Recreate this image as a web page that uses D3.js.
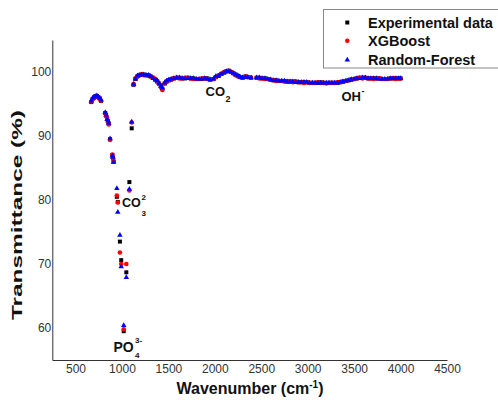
<!DOCTYPE html>
<html><head><meta charset="utf-8">
<script src="https://cdn.jsdelivr.net/npm/d3@7"></script>
<style>
body{margin:0;background:#fff;}
svg{display:block;font-family:Arial,"Liberation Sans",sans-serif;}
</style></head><body>
<svg id="chart" width="498" height="402"></svg>
<script>
// ---- data ----
const wavenumbers = [
 670,685,700,715,730,745,760,775,820,830,840,850,858,872,897,903,910,945,955,978,992,1019,1047,1080,1105,
 1125,1145,1165,1185,1210,1235,1260,1285,1310,1335,1360,1380,1400,1420,1435,1460,1480,1505,1530,
 1560,1590,1620,1650,1680,1710,1740,1770,1800,1830,1860,1890,1920,1950,1985,
 2010,2040,2070,2100,2125,2150,2175,2200,2225,2250,2275,2300,2330,2355,2390,
 2450,2480,2510,2540,2570,2600,2630,2660,2690,2720,2750,2780,2810,2840,2870,2900,2930,2960,2990,3020,
 3050,3080,3110,3140,3170,3200,3230,3260,3290,3320,3350,3380,3410,3440,3470,3500,3530,3560,3590,3620,
 3650,3680,3710,3740,3770,3800,3830,3860,3890,3920,3950,3980,4000
];
const experimental = [
 95.3,95.8,96.0,96.2,96.2,96.1,95.9,95.5,93.6,93.2,92.7,92.3,91.9,89.5,87.0,86.6,86.0,80.5,79.7,73.5,70.6,59.5,68.7,82.8,91.2,
 98.0,98.9,99.3,99.5,99.6,99.6,99.5,99.5,99.3,99.1,98.8,98.5,98.2,97.9,97.4,98.2,98.5,98.7,98.8,
 99.0,99.1,99.1,99.0,99.0,99.1,99.0,99.0,98.9,98.9,98.9,99.0,99.0,98.8,98.9,
 99.2,99.4,99.7,99.9,100.1,100.2,100.0,99.8,99.6,99.4,99.2,99.1,99.3,99.2,99.1,
 99.1,99.1,99.0,99.0,98.9,98.8,98.7,98.7,98.6,98.6,98.6,98.5,98.5,98.5,98.5,98.4,98.4,98.4,98.4,98.3,
 98.3,98.3,98.3,98.4,98.3,98.3,98.3,98.3,98.3,98.3,98.4,98.5,98.6,98.7,98.8,98.9,99.0,99.1,99.1,99.1,
 99.0,99.0,99.0,99.0,99.0,98.9,98.9,98.9,99.0,99.0,99.0,99.0,99.0
];
const xgboost = [
 95.4,95.8,96.0,96.1,96.2,96.1,95.8,95.5,93.5,93.1,92.8,92.2,91.8,89.4,87.1,86.5,86.1,80.7,79.6,71.8,70.0,59.8,70.0,81.5,92.1,
 98.1,99.0,99.3,99.5,99.6,99.5,99.5,99.4,99.3,99.1,98.9,98.6,98.1,97.6,97.2,98.2,98.5,98.7,98.9,
 99.0,99.1,99.0,99.0,99.1,99.1,99.0,98.9,98.9,98.9,99.0,99.0,98.9,98.8,98.9,
 99.2,99.5,99.7,100.0,100.1,100.2,100.0,99.8,99.5,99.3,99.2,99.1,99.3,99.2,99.1,
 99.1,99.0,99.0,98.9,98.9,98.8,98.7,98.6,98.6,98.6,98.5,98.5,98.5,98.4,98.5,98.4,98.4,98.3,98.4,98.3,
 98.3,98.3,98.4,98.3,98.3,98.2,98.3,98.3,98.3,98.4,98.4,98.5,98.6,98.7,98.9,98.9,99.0,99.1,99.0,99.1,
 99.0,99.0,98.9,99.0,99.0,98.9,98.9,98.9,99.0,99.0,98.9,99.0,99.0
];
const randomForest = [
 95.5,95.9,96.1,96.2,96.3,96.1,95.9,95.6,93.7,93.3,92.6,92.4,92.0,89.6,86.9,86.7,85.9,81.8,78.1,74.5,69.6,60.4,67.9,81.7,92.2,
 98.1,98.9,99.4,99.5,99.6,99.6,99.5,99.5,99.3,99.0,98.8,98.6,98.2,97.8,97.5,98.3,98.6,98.8,98.9,
 99.0,99.1,99.1,99.0,99.0,99.0,99.0,99.0,98.9,98.9,98.9,99.0,98.9,98.8,98.9,
 99.3,99.4,99.7,99.9,100.1,100.1,100.0,99.8,99.6,99.4,99.2,99.1,99.2,99.2,99.1,
 99.1,99.1,99.0,99.0,98.9,98.8,98.7,98.7,98.6,98.6,98.6,98.5,98.5,98.5,98.4,98.4,98.4,98.4,98.4,98.3,
 98.3,98.3,98.3,98.3,98.3,98.3,98.3,98.3,98.3,98.3,98.4,98.5,98.6,98.7,98.8,98.9,99.0,99.0,99.1,99.1,
 99.0,99.0,99.0,99.0,98.9,98.9,98.9,98.9,99.0,99.0,99.0,99.0,99.0
];
const xTicks = [500,1000,1500,2000,2500,3000,3500,4000,4500];
const yTicks = [60,70,80,90,100];
const seriesNames = ["Experimental data","XGBoost","Random-Forest"];
const seriesColors = ["#000000","#ff0000","#0000ff"];

// ---- scales ----
const svg = d3.select("#chart");
const x = d3.scaleLinear().domain([250,4500]).range([52.3,447]);
const y = d3.scaleLinear().domain([55,105]).range([360,40]);

// ---- axes ----
const xAxis = svg.append("g").attr("transform","translate(0,360)")
  .call(d3.axisBottom(x).tickValues(xTicks).tickSize(0).tickPadding(4).tickFormat(d3.format("d")));
const yAxis = svg.append("g").attr("transform","translate(52.3,0)")
  .call(d3.axisLeft(y).tickValues(yTicks).tickSize(0).tickPadding(1).tickFormat(d3.format("d")));
[xAxis,yAxis].forEach(g=>{
  g.select(".domain").attr("stroke","#333").attr("stroke-width",1);
  g.selectAll("text").attr("font-size",12).attr("fill","#333").attr("font-family","Arial, 'Liberation Sans', sans-serif");
});

// ---- axis titles ----
const xt = svg.append("text").attr("x",250).attr("y",394).attr("text-anchor","middle")
  .attr("font-size",16).attr("font-weight","bold").attr("fill","#111");
xt.append("tspan").text("Wavenumber (cm");
xt.append("tspan").attr("font-size",10).attr("dy",-6).text("-1");
xt.append("tspan").attr("dy",6).text(")");

svg.append("text").attr("transform","translate(21.5,215) rotate(-90)")
  .attr("text-anchor","middle").attr("font-size",15.5).attr("font-weight","bold").attr("fill","#111")
  .attr("textLength",210).attr("lengthAdjust","spacingAndGlyphs")
  .text("Transmittance (%)");

// ---- points ----
const idx = d3.range(wavenumbers.length);
const sq = d3.symbol().type(d3.symbolSquare).size(16);
const tri = d3.symbol().type(d3.symbolTriangle).size(13);

svg.append("g").selectAll("path").data(idx).join("path")
  .attr("d",sq).attr("fill",seriesColors[0])
  .attr("transform",i=>`translate(${x(wavenumbers[i])},${y(experimental[i])})`);
svg.append("g").selectAll("circle").data(idx).join("circle")
  .attr("cx",i=>x(wavenumbers[i])).attr("cy",i=>y(xgboost[i])).attr("r",2.3)
  .attr("fill",seriesColors[1]);
svg.append("g").selectAll("path").data(idx).join("path")
  .attr("d",tri).attr("fill",seriesColors[2])
  .attr("transform",i=>`translate(${x(wavenumbers[i])},${y(randomForest[i])})`);

// ---- annotations ----
const ann = svg.append("g").attr("font-weight","bold").attr("fill","#111");
ann.append("text").attr("x",122).attr("y",207).attr("font-size",12.5).text("CO");
ann.append("text").attr("x",141.5).attr("y",199.5).attr("font-size",8).text("2");
ann.append("text").attr("x",141.5).attr("y",215.5).attr("font-size",8).text("3");

ann.append("text").attr("x",113.5).attr("y",352).attr("font-size",14).text("PO");
ann.append("text").attr("x",135).attr("y",342.5).attr("font-size",8).text("3-");
ann.append("text").attr("x",135).attr("y",358).attr("font-size",8).text("4");

ann.append("text").attr("x",205.5).attr("y",95.5).attr("font-size",13).text("CO");
ann.append("text").attr("x",225.5).attr("y",101.5).attr("font-size",9).text("2");

ann.append("text").attr("x",341.5).attr("y",100.5).attr("font-size",13).text("OH");
ann.append("text").attr("x",361.5).attr("y",94).attr("font-size",9).text("-");

// ---- legend ----
const lg = svg.append("g");
lg.append("rect").attr("x",323.5).attr("y",9.5).attr("width",200).attr("height",58.5)
  .attr("fill","#fff").attr("stroke","#888").attr("stroke-width",1);
const rowsY = [22.5,40.8,59.8];
lg.append("path").attr("d",sq).attr("fill",seriesColors[0]).attr("transform",`translate(347.3,${rowsY[0]})`);
lg.append("circle").attr("cx",347.3).attr("cy",rowsY[1]).attr("r",2.3).attr("fill",seriesColors[1]);
lg.append("path").attr("d",tri).attr("fill",seriesColors[2]).attr("transform",`translate(347.3,${rowsY[2]})`);
seriesNames.forEach((n,i)=>{
  lg.append("text").attr("x",368).attr("y",rowsY[i]+5).attr("font-size",14.5)
    .attr("font-weight","bold").attr("fill","#111").text(n);
});
</script>
</body></html>
